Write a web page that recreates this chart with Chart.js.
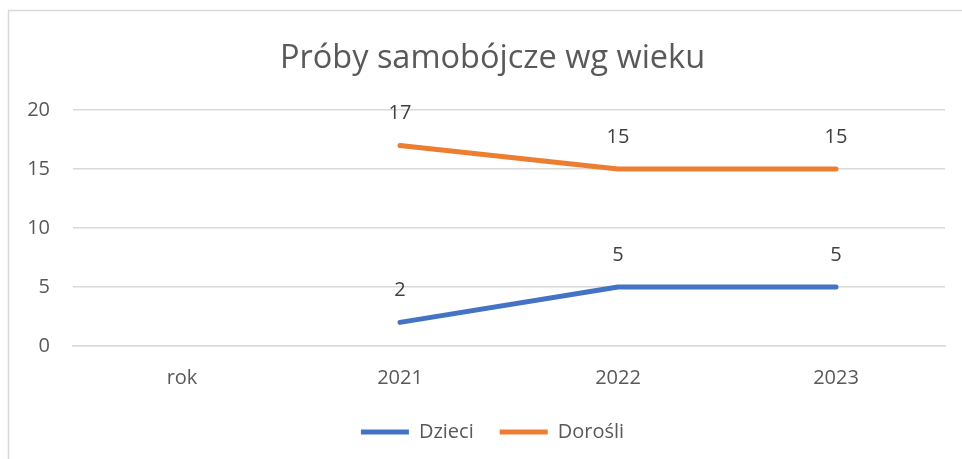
<!DOCTYPE html>
<html>
<head>
<meta charset="utf-8">
<script src="https://cdn.jsdelivr.net/npm/chart.js@4/dist/chart.umd.min.js"></script>
<style>
  html, body { margin: 0; padding: 0; background: #fff; }
  #wrap { width: 962px; height: 459px; }
</style>
</head>
<body>
<div id="wrap"><canvas id="chart" width="962" height="459"></canvas></div>
<script>
const categories = ["rok", "2021", "2022", "2023"];
const dzieci = [null, 2, 5, 5];
const dorosli = [null, 17, 15, 15];
const yTicks = [0, 5, 10, 15, 20];

const FONT = "'Open Sans', 'Noto Sans', sans-serif";

// frame around the chart (as in the office export)
const framePlugin = {
  id: "frame",
  beforeDraw(chart) {
    const c = chart.ctx;
    c.save();
    c.fillStyle = "#fff";
    c.fillRect(0, 0, chart.width, chart.height);
    c.strokeStyle = "#d9d9d9";
    c.lineWidth = 1.5;
    c.strokeRect(8.5, 10.5, chart.width + 20, chart.height + 20);
    c.restore();
  },
  // title and legend are centred a bit right of the canvas centre in the original
  afterLayout(chart) {
    const shift = 31;
    if (chart.titleBlock) chart.titleBlock.left += shift;
    if (chart.legend) chart.legend.left += shift;
  }
};

// value labels above each point
const labelPlugin = {
  id: "valueLabels",
  afterDatasetsDraw(chart) {
    const c = chart.ctx;
    c.save();
    c.font = "20px " + FONT;
    c.fillStyle = "#404040";
    c.textAlign = "center";
    c.textBaseline = "middle";
    chart.data.datasets.forEach((ds, i) => {
      chart.getDatasetMeta(i).data.forEach((pt, j) => {
        const v = ds.data[j];
        if (v === null) return;
        c.fillText(String(v), pt.x, pt.y - 32);
      });
    });
    c.restore();
  }
};

const ctx = document.getElementById("chart").getContext("2d");

new Chart(ctx, {
  type: "line",
  data: {
    labels: categories,
    datasets: [{
      label: "Dzieci",
      data: dzieci,
      borderColor: "#4472C4",
      backgroundColor: "#4472C4",
      borderWidth: 5,
      borderCapStyle: "round",
      borderJoinStyle: "round",
      pointRadius: 0,
      tension: 0
    }, {
      label: "Dorośli",
      data: dorosli,
      borderColor: "#ED7D31",
      backgroundColor: "#ED7D31",
      borderWidth: 5,
      borderCapStyle: "round",
      borderJoinStyle: "round",
      pointRadius: 0,
      tension: 0
    }]
  },
  options: {
    responsive: false,
    animation: false,
    layout: { padding: { left: 9, right: 17, top: 10, bottom: 7 } },
    plugins: {
      title: {
        display: true,
        text: "Próby samobójcze wg wieku",
        color: "#595959",
        font: { family: FONT, size: 32.5, weight: "normal" },
        padding: { top: 29, bottom: 32 }
      },
      legend: {
        position: "bottom",
        labels: {
          color: "#595959",
          font: { family: FONT, size: 20 },
          usePointStyle: true,
          pointStyle: "line",
          pointStyleWidth: 48,
          padding: 26
        }
      },
      tooltip: { enabled: false }
    },
    scales: {
      x: {
        offset: true,
        grid: { display: false, drawTicks: false },
        border: { display: true, color: "#d9d9d9", width: 1.5 },
        ticks: { color: "#595959", font: { family: FONT, size: 20 }, padding: 20, maxRotation: 0 },
        afterFit(s) { s.height = 50; }
      },
      y: {
        min: 0,
        max: 20,
        afterBuildTicks(s) { s.ticks = yTicks.map(v => ({ value: v })); },
        grid: { color: "#d9d9d9", lineWidth: 1.5, drawTicks: false },
        border: { display: false },
        ticks: { color: "#595959", font: { family: FONT, size: 20 }, padding: 23 },
        afterFit(s) { s.width = 64; }
      }
    }
  },
  plugins: [framePlugin, labelPlugin]
});
</script>
</body>
</html>
